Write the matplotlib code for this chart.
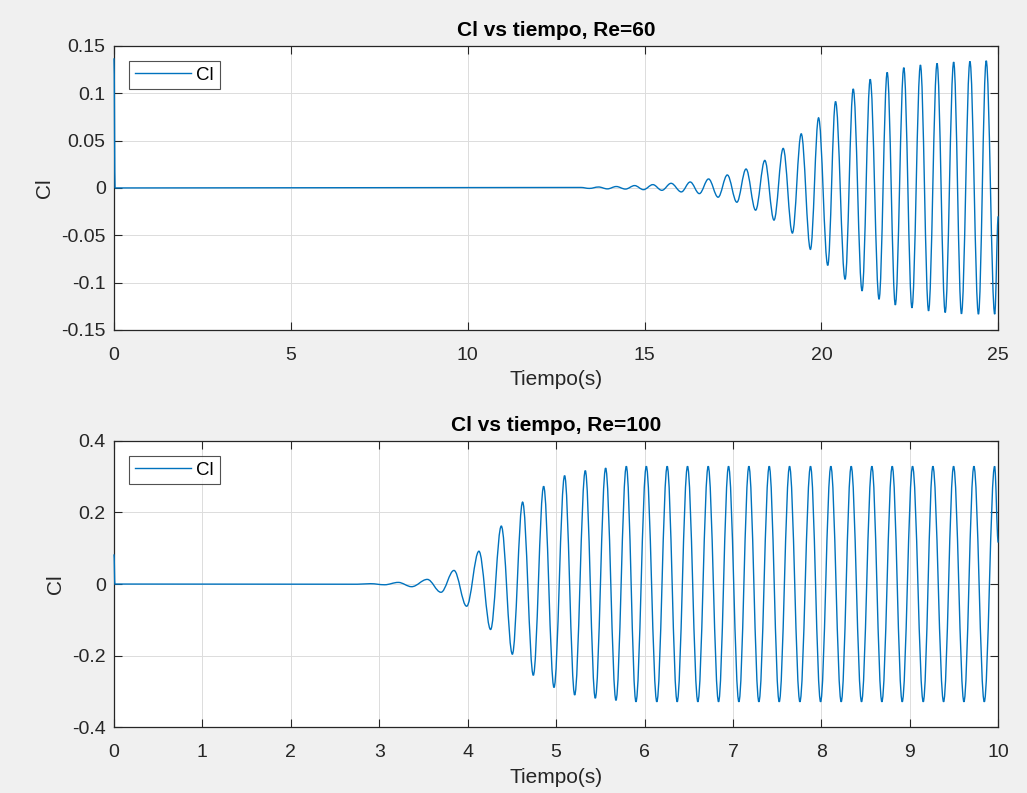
import matplotlib
matplotlib.use("Agg")
import matplotlib.pyplot as plt
from matplotlib.path import Path
from matplotlib.patches import PathPatch
from matplotlib.lines import Line2D
from matplotlib.ticker import FormatStrFormatter

plt.rcParams["font.family"] = ["Liberation Sans", "DejaVu Sans"]
plt.rcParams["axes.unicode_minus"] = False

# Cl(t) for Re=60, extrema
t_re60 = [0.0, 0.03, 13.2, 13.44, 13.7, 13.95, 14.2, 14.46, 14.72, 14.97,
          15.235, 15.49, 15.75, 16.04, 16.29, 16.55, 16.81, 17.08, 17.34, 17.61,
          17.87, 18.14, 18.40, 18.66, 18.92, 19.18, 19.43, 19.69, 19.92, 20.18,
          20.40, 20.67, 20.90, 21.15, 21.38, 21.63, 21.86, 22.09, 22.33, 22.56,
          22.80, 23.03, 23.27, 23.50, 23.74, 23.96, 24.20, 24.44, 24.66, 24.90,
          25.0]
cl_re60 = [0.137, 0.0, 0.0005, -0.0005, 0.001, -0.001, 0.0015, -0.0012, 0.0025, -0.0018,
           0.0035, -0.0025, 0.0049, -0.0042, 0.0063, -0.0060, 0.0095, -0.0098, 0.0137, -0.0151,
           0.0200, -0.0235, 0.0291, -0.0340, 0.0418, -0.0477, 0.0572, -0.0649, 0.0741, -0.0818,
           0.0913, -0.0965, 0.1046, -0.1088, 0.1148, -0.1176, 0.1221, -0.1236, 0.1271, -0.1267,
           0.1299, -0.1299, 0.1316, -0.1316, 0.1330, -0.1330, 0.1337, -0.1334, 0.1344, -0.1334,
           -0.030]

# Cl(t) for Re=100
t_re100 = [0.0, 0.01, 2.75, 2.9, 3.06, 3.215, 3.366, 3.543, 3.698, 3.845,
           3.988, 4.127, 4.259, 4.380, 4.505, 4.621, 4.742, 4.859, 4.976, 5.096,
           5.210, 5.330, 5.443, 5.560, 5.677, 5.794, 5.903, 6.02, 6.139, 6.256,
           6.369, 6.486, 6.603, 6.720, 6.837, 6.950, 7.067, 7.180, 7.293, 7.410,
           7.523, 7.640, 7.757, 7.877, 7.991, 8.107, 8.224, 8.337, 8.454, 8.571,
           8.684, 8.801, 8.914, 9.031, 9.152, 9.261, 9.382, 9.495, 9.612, 9.725,
           9.842, 9.959, 10.0]
cl_re100 = [0.083, 0.0, -0.0005, 0.001, -0.002, 0.0046, -0.0074, 0.013, -0.023, 0.038,
            -0.062, 0.0917, -0.127, 0.162, -0.196, 0.229, -0.255, 0.273, -0.289, 0.303,
            -0.310, 0.317, -0.319, 0.324, -0.325, 0.329, -0.329, 0.329, -0.329, 0.329,
            -0.329, 0.329, -0.329, 0.329, -0.329, 0.329, -0.329, 0.329, -0.329, 0.329,
            -0.329, 0.329, -0.329, 0.329, -0.329, 0.329, -0.329, 0.329, -0.329, 0.329,
            -0.329, 0.329, -0.329, 0.329, -0.329, 0.329, -0.329, 0.329, -0.329, 0.329,
            -0.329, 0.329, 0.116]

xticks_re60 = [0, 5, 10, 15, 20, 25]
yticks_re60 = [-0.15, -0.1, -0.05, 0, 0.05, 0.1, 0.15]
xticks_re100 = list(range(11))
yticks_re100 = [-0.4, -0.2, 0, 0.2, 0.4]

LINE_COLOR = "#0072BD"
AX_COLOR = "#262626"


def extrema_path(t, y, k=0.3642):
    # the points are the read peaks/troughs, so join them with flat tangents
    verts = [(t[0], y[0])]
    codes = [Path.MOVETO]
    for i in range(1, len(t)):
        dt = t[i] - t[i - 1]
        verts += [(t[i - 1] + k * dt, y[i - 1]), (t[i] - k * dt, y[i]), (t[i], y[i])]
        codes += [Path.CURVE4] * 3
    return Path(verts, codes)


def style_axes(ax, xticks, yticks, title):
    ax.set_xticks(xticks)
    ax.set_yticks(yticks)
    ax.set_xlim(xticks[0], xticks[-1])
    ax.set_ylim(yticks[0], yticks[-1])
    ax.yaxis.set_major_formatter(FormatStrFormatter("%g"))
    ax.xaxis.set_major_formatter(FormatStrFormatter("%g"))
    ax.tick_params(direction="in", top=True, right=True, length=6, width=0.8,
                   colors=AX_COLOR, labelsize=14, labelcolor=AX_COLOR)
    ax.tick_params(axis="x", pad=12)
    ax.tick_params(axis="y", pad=6)
    for s in ax.spines.values():
        s.set_color(AX_COLOR)
        s.set_linewidth(0.9)
    ax.grid(True, color="#dcdcdc", linewidth=0.7)
    ax.set_axisbelow(True)
    ax.set_title(title, fontsize=15, fontweight="bold", pad=7)
    ax.set_xlabel("Tiempo(s)", fontsize=15, color=AX_COLOR, labelpad=5)
    ax.set_ylabel("Cl", fontsize=15, color=AX_COLOR, labelpad=5)
    handle = Line2D([], [], color=LINE_COLOR, linewidth=1.0)
    leg = ax.legend([handle], ["Cl"], loc="upper left", fontsize=13.5, fancybox=False,
                    borderaxespad=0.8, handlelength=3.0, handletextpad=0.3,
                    borderpad=0.3)
    leg.get_frame().set_edgecolor(AX_COLOR)
    leg.get_frame().set_linewidth(0.8)


def draw_cl(ax, t, y):
    ax.add_patch(PathPatch(extrema_path(t, y), fill=False, edgecolor=LINE_COLOR,
                           linewidth=1.0, zorder=3, clip_on=False))


fig = plt.figure(figsize=(10.27, 7.93), dpi=100)
fig.patch.set_facecolor("#f0f0f0")

ax1 = fig.add_axes([0.111, 0.584, 0.861, 0.358])
draw_cl(ax1, t_re60, cl_re60)
style_axes(ax1, xticks_re60, yticks_re60, "Cl vs tiempo, Re=60")

ax2 = fig.add_axes([0.111, 0.083, 0.861, 0.361])
draw_cl(ax2, t_re100, cl_re100)
style_axes(ax2, xticks_re100, yticks_re100, "Cl vs tiempo, Re=100")

fig.savefig("out.png", dpi=100, facecolor=fig.get_facecolor())
